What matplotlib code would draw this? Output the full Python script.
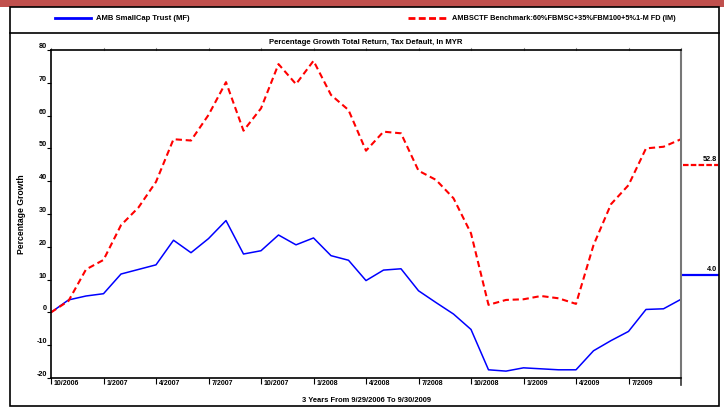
import matplotlib
matplotlib.use("Agg")
import matplotlib.pyplot as plt
import matplotlib.transforms as mtrans
from matplotlib.patches import Rectangle
from matplotlib.lines import Line2D

plt.rcParams['font.family'] = ['Liberation Sans', 'DejaVu Sans']
plt.rcParams['font.weight'] = 'bold'

# monthly values, 9/2006 .. 9/2009
months = list(range(37))
fund = [0, 3.8, 5.0, 5.7, 11.7, 13.1, 14.5, 22.0, 18.2, 22.5, 28.0, 17.8, 18.8,
        23.6, 20.6, 22.7, 17.3, 15.9, 9.7, 12.9, 13.3, 6.6, 3.0, -0.5, -5.2,
        -17.5, -17.9, -16.9, -17.2, -17.5, -17.5, -11.7, -8.6, -5.8, 0.9, 1.1, 4.0]
bench = [0, 3.5, 13.1, 16.0, 26.6, 32.0, 39.8, 52.8, 52.4, 60.2, 70.2, 55.4, 62.2,
         75.7, 69.6, 76.7, 66.3, 61.7, 49.3, 55.1, 54.6, 43.2, 40.4, 34.8, 24.1,
         2.3, 3.8, 4.0, 5.0, 4.3, 2.6, 20.5, 33.0, 38.8, 50.0, 50.5, 52.8]
tick_labels = ['10/2006', '1/2007', '4/2007', '7/2007', '10/2007', '1/2008',
               '4/2008', '7/2008', '10/2008', '1/2009', '4/2009', '7/2009']
fund_name = 'AMB SmallCap Trust (MF)'
bench_name = 'AMBSCTF Benchmark:60%FBMSC+35%FBM100+5%1-M FD (IM)'
end_labels = ['52.8', '4.0']

fig = plt.figure(figsize=(7.24, 4.12), dpi=100)

# frame, red strip and legend separator
fig.add_artist(Rectangle((0, 1 - 7 / 412), 1, 7 / 412, transform=fig.transFigure,
                         facecolor='#c0504d', edgecolor='none'))
fig.add_artist(Rectangle((10 / 724, 6 / 412), 709 / 724, 399 / 412, transform=fig.transFigure,
                         facecolor='none', edgecolor='black', linewidth=1.2))
fig.add_artist(Line2D([10 / 724, 719 / 724], [1 - 33 / 412] * 2, transform=fig.transFigure,
                      color='black', linewidth=1.2))

# legend row
ly = 1 - 18 / 412
fig.add_artist(Line2D([55 / 724, 91 / 724], [ly, ly], transform=fig.transFigure,
                      color='#0000ff', linewidth=2))
fig.text(96 / 724, ly, fund_name, fontsize=5.5, va='center')
fig.add_artist(Line2D([408 / 724, 447 / 724], [ly, ly], transform=fig.transFigure,
                      color='#ff0000', linewidth=2, linestyle=(0, (2.5, 1.2))))
fig.text(452 / 724, ly, bench_name, fontsize=5.3, va='center')

ax = fig.add_axes([51 / 724, 34 / 412, 630 / 724, 328 / 412])
ax.plot(months, fund, color='#0000ff', linewidth=1.1)
ax.plot(months, bench, color='#ff0000', linewidth=1.5, linestyle=(0, (3, 1.8)))
ax.set_xlim(0, 36)
ax.set_ylim(-20, 80)

ax.set_yticks(range(-20, 81, 10))
ax.set_yticklabels([str(v) for v in range(-20, 81, 10)], fontsize=5.2)
for lab in ax.get_yticklabels():
    lab.set_verticalalignment('bottom')
ax.tick_params(axis='y', length=3, width=0.8, pad=0)

ax.set_xticks(range(0, 36, 3))
ax.set_xticklabels(tick_labels, fontsize=5.0, ha='left')
ax.tick_params(axis='x', length=4.3, width=0.8, pad=-3.0)
off = mtrans.ScaledTranslation(3 / 100, 0, fig.dpi_scale_trans)
for lab in ax.get_xticklabels():
    lab.set_transform(lab.get_transform() + off)

# top spine ticks
for m in range(0, 37, 3):
    ax.plot([m, m], [80, 80.6], color='#999999', linewidth=0.8, clip_on=False)

for side in ['left', 'top', 'bottom']:
    ax.spines[side].set_linewidth(1.2)
ax.spines['right'].set_color('#777777')
ax.spines['right'].set_linewidth(1.5)
ax.plot([36, 36], [-20, -22], color='#333333', linewidth=1.2, clip_on=False)

ax.set_title('Percentage Growth Total Return, Tax Default, In MYR', fontsize=5.6,
             fontweight='bold', y=1.018, pad=0)
ax.set_xlabel('3 Years From 9/29/2006 To 9/30/2009', fontsize=5.4, fontweight='bold')
ax.xaxis.set_label_coords(0.5, -0.058)
ax.set_ylabel('Percentage Growth', fontsize=6.2, fontweight='bold')
ax.yaxis.set_label_coords(-0.039, 0.5)

# end value markers at right
ax.plot([1.003, 1.058], [45, 45], transform=ax.get_yaxis_transform(), color='#ff0000',
        linewidth=1.6, linestyle=(0, (2.5, 1)), clip_on=False)
ax.text(1.057, 45.6, end_labels[0], transform=ax.get_yaxis_transform(), ha='right',
        va='bottom', fontsize=5.2)
ax.plot([1.003, 1.058], [11.4, 11.4], transform=ax.get_yaxis_transform(), color='#0000ff',
        linewidth=1.6, clip_on=False)
ax.text(1.057, 12.0, end_labels[1], transform=ax.get_yaxis_transform(), ha='right',
        va='bottom', fontsize=5.2)

fig.savefig('out.png', dpi=100)
